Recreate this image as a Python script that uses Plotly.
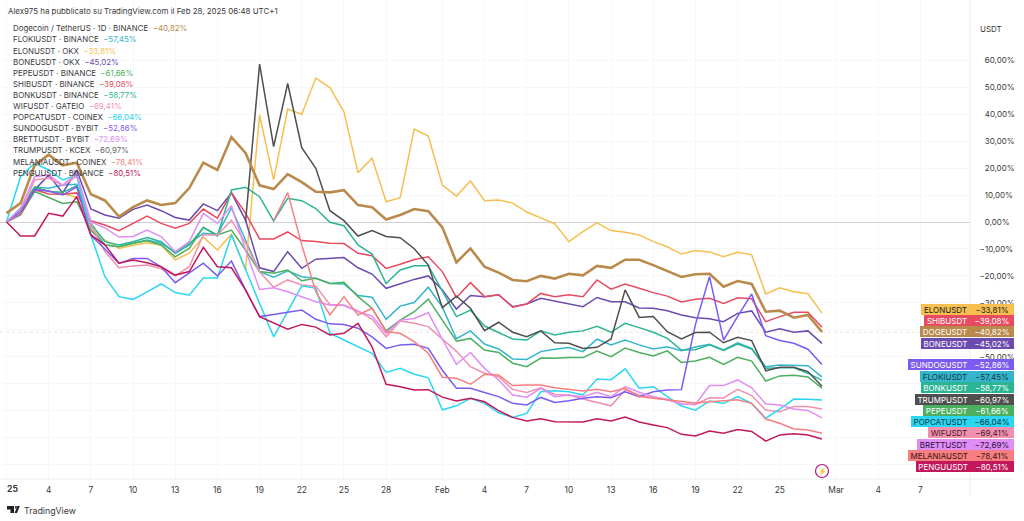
import pandas as pd
import plotly.graph_objects as go

W, H = 1024, 521
dates = pd.date_range("2025-01-01", "2025-02-28", freq="D")

doge = [3.3,7,21,25,21,22,10.3,8,2,5.5,
        8,6.3,7,12.6,22,19.3,31.5,25.6,13.6,12.2,
        17.8,14.8,11.2,11,11.8,6.3,5.5,0.9,2.6,4.8,
        4,-2,-15,-9.8,-16.6,-18.8,-21.5,-22,-20,-21,
        -19.2,-19.8,-16.3,-17,-14,-14,-16,-18.2,-20.4,-19.4,
        -19.2,-24,-21.9,-23,-33.3,-32.9,-35.5,-34.5,-40.82]
floki = [0,4.5,13,12.5,13.7,14,-1.7,-8.5,-9.2,-7.9,
         -6.7,-7.9,-11.2,-7.9,-4.2,-4.6,5.2,-6.7,-18.4,-20.5,
         -18.1,-20.3,-20.9,-22.8,-23,-27.3,-27.9,-36.1,-31.2,-29.9,
         -24.2,-31.6,-43.3,-40.4,-45.3,-47.1,-50.8,-51,-48.1,-47.2,
         -46.6,-48.1,-43.5,-45.6,-43.8,-45.6,-47.1,-46.3,-47.8,-46.4,
         -45.4,-47.5,-44.8,-46.9,-53.7,-53.1,-53.1,-53.3,-57.45]
elon = [0,3.3,12.6,11.6,10.6,9.1,-2.3,-6.7,-9.8,-8.6,
        -7.7,-8.6,-14,-11.6,-5.6,-10.4,-4.5,-17.8,39.7,15.6,
        41.9,40,53.4,49.9,40.9,18.3,23.7,7.5,9,34.5,
        31.9,13.7,9.6,15.2,7.9,8.2,7,3.7,1.5,-0.7,
        -7.3,-3.6,-0.3,-3.2,-3.8,-4.8,-7.3,-9.2,-11.9,-10.6,
        -11.1,-12.9,-11.2,-12.2,-26.7,-24.4,-25.9,-26.6,-33.81]
bone = [0,5,12,17.4,10.8,19.3,4.8,2.6,1.4,4.7,
        6.3,4.2,1.7,0.7,6.7,4.2,10.8,0.7,-17,-18.4,
        -11,-17.2,-13.8,-13.5,-13.2,-17,-19.3,-24.6,-23,-21.3,
        -20,-25.2,-32.3,-27.3,-27.7,-27,-31.4,-30.4,-28.3,-29.3,
        -30.2,-31.4,-28,-29.6,-29.6,-31.9,-32,-32.9,-34.5,-35.5,
        -35.9,-37,-33.9,-33,-40.9,-39.6,-40.9,-40.4,-45.02]
pepe = [0,2.6,11.3,9.2,6.9,7.5,-3,-8.5,-9.2,-7.9,
        -7,-8.5,-12.9,-9.8,-2,-4.8,-3,-10.4,-18.4,-19,
        -17.8,-21.8,-20.9,-22.8,-22.4,-27.7,-32,-40.4,-36.4,-33.3,
        -28.6,-36.4,-44.2,-43.2,-47.5,-48.4,-52.4,-53.7,-50.5,-50.6,
        -50.3,-50.3,-47.9,-50,-46.8,-48.4,-49.7,-47.8,-52.1,-51.6,
        -50.2,-52.8,-50.2,-51.6,-59,-57.1,-56.9,-57.5,-61.66]
shib = [0,3,12,10.4,10.3,10.8,0.5,-1.1,-3.2,-0.5,
        2.2,-0.5,-2.3,-0.5,4.8,1.4,10.9,3.3,-6.3,-6.3,
        -3.7,-6.9,-7.2,-7.9,-8,-11.6,-12.5,-17.2,-15.7,-13.9,
        -12.9,-18.4,-28,-22.5,-27.7,-27,-31.6,-30.4,-26.5,-27.7,
        -27,-27.7,-21.5,-24.9,-23,-24.6,-26.2,-27.5,-29.7,-28.7,
        -28.3,-30.2,-28.1,-28.5,-37,-35.1,-33.5,-33.5,-39.08]
bonk = [0,5,12.9,11.3,11,13.4,-0.5,-7.3,-8.5,-7.3,
        -5.8,-7.3,-11.6,-8.5,-2,-5.2,11.9,12.9,9.4,0.4,
        8.8,7.9,5,-0.1,-1.4,-8.5,-11.9,-22.8,-17.8,-16.2,
        -16.2,-25.5,-35.1,-32.7,-38.6,-41,-43.4,-43.8,-40.4,-41.9,
        -40.9,-40.4,-38.7,-40.9,-37.6,-39.2,-40.9,-43.2,-47.5,-47.4,
        -45.6,-47.7,-45.3,-47.1,-54.3,-54.1,-54.1,-56.1,-58.77]
wif = [0,3.3,15.6,16.3,13.5,17,-1,-11,-17,-16.3,
       -16,-17.4,-20,-16.6,-4.8,-4.8,0.7,-7.8,-18.5,-24.2,
       -21.5,-23.4,-23.8,-30.6,-30.8,-33,-36,-42.6,-36.7,-37.6,
       -38.8,-43.5,-48,-53.7,-56.1,-57.4,-62.1,-63.3,-61.5,-64,
       -64.2,-65.7,-67,-68.2,-62.3,-64.2,-65.2,-66,-67.5,-67.7,
       -65.2,-65.3,-62.1,-64.4,-69.8,-70.4,-68.5,-68.5,-69.41]
popcat = [0,16.8,21.8,19.3,15.6,17.4,-4.8,-20.3,-27.7,-28.7,
          -25.9,-23,-26.2,-27.2,-20.8,-20.8,-4.8,-17.8,-30.2,-42.6,
          -33.3,-23.7,-24.6,-41.3,-43.8,-46.3,-48.7,-55.8,-54.3,-56.5,
          -57.8,-69.7,-68.2,-65.4,-67.3,-70.8,-72.5,-71,-63,-62.6,
          -63,-64.2,-58.3,-58.5,-54.5,-61.7,-61.1,-64.8,-68.3,-69.8,
          -66.4,-67.3,-64.8,-67.3,-72.8,-69.4,-65.7,-65.8,-66.04]
sundog = [0,3.7,12,11.5,10,13,-5,-10,-15.4,-13.5,
          -13.5,-16.6,-22.5,-19,-15.3,-20,-14.5,-25.2,-35.1,-34.3,
          -33.5,-32.7,-36.1,-37.8,-38,-39.4,-42.6,-46.9,-45.6,-45.4,
          -46.9,-55,-61.7,-61.7,-63.3,-64.8,-67.3,-67.9,-65.1,-67,
          -66.3,-65.4,-64.8,-65.2,-63,-64.8,-63,-62.3,-62.2,-38,
          -20.3,-43.8,-35,-26.7,-42.2,-44,-45,-47.2,-52.86]
brett = [0,5,16.8,17.4,13.7,18,0,-2.2,-5.6,-5.4,
         -3,-5.4,-11,-7.3,3.2,-0.5,6,-10.4,-25,-24.4,
         -25.9,-27.7,-29.6,-30.8,-31,-33.2,-34.9,-41.3,-36.4,-35.8,
         -33.7,-43.5,-52.8,-48.4,-54.3,-58.6,-64.2,-65,-61.7,-64.8,
         -64.2,-64.8,-63.2,-64.8,-61.1,-63.2,-64.8,-65.8,-67.5,-67.7,
         -60.7,-60.7,-58.6,-61.5,-67.5,-67.9,-69.4,-69.9,-72.69]
trump = [None]*17 + [0,58.6,28,
         51.4,27.6,19.9,4.2,0.5,-5.2,-3.2,-5.4,-5.8,-9.9,
         -16,-31.8,-27.5,-32,-40.3,-37.2,-40.9,-42.6,-40.4,-44.8,
         -45,-46.9,-46.5,-43.4,-25.2,-35.4,-35.1,-40.7,-43.4,-41,
         -40.9,-44.8,-42.8,-44,-55.2,-53.9,-53.9,-55.5,-60.97]
melania = [None]*19 + [0.5,
           10.9,-8.5,-25.9,-34.5,-27.7,-34.5,-32,-40.7,-41.3,-44.4,
           -48.7,-57.6,-58,-60.2,-56.5,-56.8,-60.7,-60.5,-60.5,-61.5,
           -62,-62.7,-62.1,-63,-61.7,-64.8,-65.4,-66,-66.7,-67.2,
           -66.7,-66.4,-66,-67.3,-73.1,-74.7,-76.8,-77.2,-78.41]
pengu = [0,-5.2,-5.2,3.2,2.2,9.4,-4.8,-8.5,-15.3,-14.1,
         -15.1,-16.6,-19.7,-18.4,-9.4,-16.6,-17,-25.2,-35.1,-37.4,
         -39.8,-38,-39,-41.9,-41.3,-37.6,-46.3,-60.2,-61.1,-62.3,
         -62.2,-65,-66.4,-65.4,-66.7,-70,-72.5,-73.8,-73,-74.1,
         -74.2,-74.2,-73,-73.8,-72.4,-74.2,-75.3,-76.3,-78.8,-79.4,
         -77.6,-78.4,-77,-77.7,-81.3,-79,-78.6,-79,-80.51]

legend_names = ["Dogecoin / TetherUS · 1D · BINANCE", "FLOKIUSDT · BINANCE", "ELONUSDT · OKX",
                "BONEUSDT · OKX", "PEPEUSDT · BINANCE", "SHIBUSDT · BINANCE", "BONKUSDT · BINANCE",
                "WIFUSDT · GATEIO", "POPCATUSDT · COINEX", "SUNDOGUSDT · BYBIT", "BRETTUSDT · BYBIT",
                "TRUMPUSDT · KCEX", "MELANIAUSDT · COINEX", "PENGUUSDT · BINANCE"]
series_values = [doge, floki, elon, bone, pepe, shib, bonk, wif, popcat, sundog, brett, trump, melania, pengu]
series_colors = ["#b98a4b", "#35b5cc", "#f6bf4f", "#6b4bb0", "#4caf5f", "#e84a5f", "#2bb594",
                 "#f290b0", "#2bd6f2", "#7c5cf0", "#e08df5", "#4f4f4f", "#f77f7f", "#c2185b"]
legend_value_colors = list(series_colors)
legend_value_colors[11] = "#666666"

tag_names = ["ELONUSDT", "SHIBUSDT", "DOGEUSDT", "BONEUSDT", "SUNDOGUSDT", "FLOKIUSDT", "BONKUSDT",
             "TRUMPUSDT", "PEPEUSDT", "POPCATUSDT", "WIFUSDT", "BRETTUSDT", "MELANIAUSDT", "PENGUUSDT"]
tag_series = [2, 5, 0, 3, 9, 1, 6, 11, 4, 8, 7, 10, 12, 13]
tag_text = ["#222222", "#ffffff", "#ffffff", "#ffffff", "#ffffff", "#123a44", "#ffffff",
            "#ffffff", "#ffffff", "#0b3a44", "#3a1a24", "#2a1040", "#3a1414", "#ffffff"]
tag_left_px = [921, 924, 920, 921, 908, 920, 921, 914.7, 922.7, 911, 928, 917, 907.7, 915.7]
tag_center_px = [309.3, 320.7, 331.7, 343, 364, 376.7, 387.7, 399, 410.3, 421.7, 432.7, 444, 455.3, 466.7]

y_tick_vals = [60, 50, 40, 30, 20, 10, 0, -10, -20, -30, -40, -50, -60, -70, -80, -90]
y_ticks_hidden_by_tags = [-40, -60, -70, -80, -90]
x_tick_dates = ["2025-01-04", "2025-01-07", "2025-01-10", "2025-01-13", "2025-01-16", "2025-01-19",
                "2025-01-22", "2025-01-25", "2025-01-28", "2025-02-01", "2025-02-04", "2025-02-07",
                "2025-02-10", "2025-02-13", "2025-02-16", "2025-02-19", "2025-02-22", "2025-02-25",
                "2025-03-01", "2025-03-04", "2025-03-07"]
x_tick_labels = ["4", "7", "10", "13", "16", "19", "22", "25", "28", "Feb", "4", "7", "10", "13",
                 "16", "19", "22", "25", "Mar", "4", "7"]

FONT = "Inter, 'Noto Sans', sans-serif"
TEXT = "#3a3a3a"
PLOT_R, PLOT_B = 970, 479
PX_PER_PCT, ZERO_PX = 2.695, 222
PX_PER_DAY, DAY0_PX = 14.06, 6.5


def px(x):
    return x / W


def py(y):
    return 1 - y / H


def pct(v):
    return f"\u2212{abs(v):.2f}%".replace(".", ",") if v < 0 else f"{v:.2f}%".replace(".", ",")


def y_label(v):
    if v in y_ticks_hidden_by_tags:
        return " "
    return ("\u2007" if v >= 0 else "") + pct(v)


def day_at(x_px):
    return pd.Timestamp("2025-01-01") + pd.Timedelta(days=(x_px - DAY0_PX) / PX_PER_DAY)


fig = go.Figure()
draw_order = list(range(1, 14)) + [0]
for i in draw_order:
    fig.add_trace(go.Scatter(x=dates, y=series_values[i], mode="lines", connectgaps=False,
                             line=dict(color=series_colors[i], width=2.6 if i == 0 else 1.5),
                             showlegend=False, hoverinfo="skip"))

ann = []
ann.append(dict(text="Alex975 ha pubblicato su TradingView.com il Feb 28, 2025 06:48 UTC+1",
                x=px(6), y=py(10.5), xanchor="left", yanchor="middle", font=dict(size=7.9, color=TEXT)))
for k, name in enumerate(legend_names):
    val = series_values[k][-1]
    ann.append(dict(text=f"{name}  <span style='color:{legend_value_colors[k]}'>{pct(val)}</span>",
                    x=px(11), y=py(28.3 + 11.1 * k), xanchor="left", yanchor="middle",
                    font=dict(size=7.9, color=TEXT)))
ann.append(dict(text="USDT", x=px(978), y=py(29), xanchor="left", yanchor="middle",
                font=dict(size=8, color=TEXT)))
ann.append(dict(text="<b>25</b>", x=px(12), y=py(489), xanchor="center", yanchor="middle",
                font=dict(size=8.6, color=TEXT)))
ann.append(dict(text="TradingView", x=px(22), y=py(510), xanchor="left", yanchor="middle",
                font=dict(size=8.8, color=TEXT)))
ann.append(dict(text="\u26a1", x=px(822), y=py(471), xanchor="center", yanchor="middle",
                font=dict(size=7, color="#b5177b")))
for k, name in enumerate(tag_names):
    s = tag_series[k]
    common = dict(y=py(tag_center_px[k]), yanchor="middle", height=11.2, borderpad=0, borderwidth=0,
                  bgcolor=series_colors[s], align="center")
    ann.append(dict(text=name, x=px(970), xanchor="right", width=970 - tag_left_px[k],
                    font=dict(size=8, color=tag_text[k]), **common))
    ann.append(dict(text=pct(series_values[s][-1]), x=px(970), xanchor="left", width=44,
                    font=dict(size=8, color=tag_text[k]), **common))
for a in ann:
    a.update(xref="paper", yref="paper", showarrow=False)

ln = dict(color="#eceef2", width=1)
shapes = [
    dict(type="line", xref="x", yref="y", x0=day_at(0), x1=day_at(PLOT_R), y0=doge[-1], y1=doge[-1],
         line=dict(color="rgba(185,138,75,0.28)", width=1, dash="dot"), layer="below"),
    dict(type="line", xref="paper", yref="paper", x0=0, x1=px(1014), y0=py(PLOT_B), y1=py(PLOT_B), line=ln),
    dict(type="line", xref="paper", yref="paper", x0=px(PLOT_R), x1=px(PLOT_R), y0=py(497), y1=1, line=ln),
    dict(type="circle", xref="paper", yref="paper", x0=px(815.5), x1=px(828.5), y0=py(477.5), y1=py(464.5),
         line=dict(color="#b5177b", width=1.2), fillcolor="rgba(255,255,255,0.8)"),
    dict(type="path", xref="paper", yref="paper", fillcolor="#1f1f24", line=dict(width=0),
         path=(f"M {px(7)} {py(506)} L {px(14)} {py(506)} L {px(14)} {py(513)} L {px(10.5)} {py(513)} "
               f"L {px(10.5)} {py(509.5)} L {px(7)} {py(509.5)} Z "
               f"M {px(15)} {py(506.3)} L {px(17)} {py(506.3)} L {px(17)} {py(508.6)} L {px(15)} {py(508.6)} Z "
               f"M {px(17.3)} {py(506)} L {px(19.8)} {py(506)} L {px(17)} {py(513)} L {px(14.6)} {py(513)} Z")),
]

fig.update_layout(
    width=W, height=H, autosize=False, margin=dict(l=0, r=0, t=0, b=0),
    paper_bgcolor="white", plot_bgcolor="white", font=dict(family=FONT, size=8, color=TEXT),
    annotations=ann, shapes=shapes, hovermode=False,
    xaxis=dict(domain=[0, PLOT_R / W], type="date", range=[day_at(0), day_at(PLOT_R)],
               tickvals=["2025-01-01"] + x_tick_dates, ticktext=[" "] + x_tick_labels, tickangle=0,
               showgrid=True, gridcolor="#f6f7fa", gridwidth=1, zeroline=False, showline=False,
               ticks="outside", ticklen=3, tickcolor="rgba(0,0,0,0)", tickfont=dict(size=8.4, color=TEXT)),
    yaxis=dict(domain=[1 - PLOT_B / H, 1], side="right",
               range=[(ZERO_PX - PLOT_B) / PX_PER_PCT, ZERO_PX / PX_PER_PCT],
               tickvals=y_tick_vals,
               ticktext=[y_label(v) for v in y_tick_vals],
               showgrid=True, gridcolor="#f6f7fa", gridwidth=1,
               zeroline=True, zerolinecolor="#cfcfd2", zerolinewidth=1, showline=False,
               ticks="outside", ticklen=7, tickcolor="rgba(0,0,0,0)", tickfont=dict(size=8, color=TEXT)),
)

fig.write_html("out.html", config={"displayModeBar": False},
               post_script="document.body.style.margin='0';document.documentElement.style.overflow='hidden';")
